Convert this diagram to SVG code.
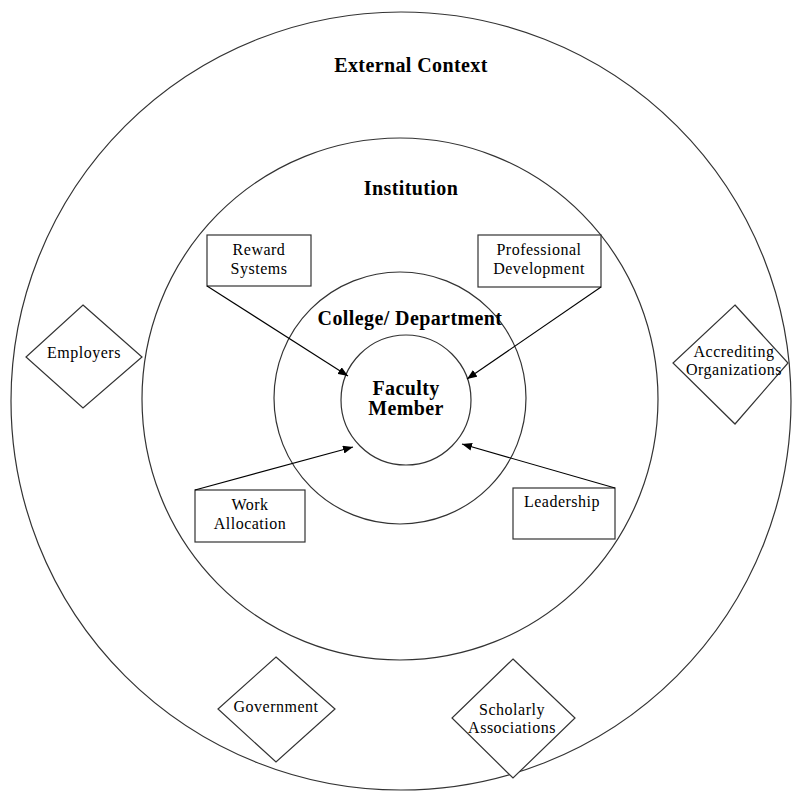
<svg xmlns="http://www.w3.org/2000/svg" width="793" height="802" viewBox="0 0 793 802">
<style>
.ring{fill:none;stroke:#333;stroke-width:1.2}
.shape{fill:#fff;stroke:#333;stroke-width:1.2}
.conn{stroke:#000;stroke-width:1.1;fill:none}
.h{font-family:"Liberation Serif",serif;font-weight:bold;font-size:20px;letter-spacing:0.4px;fill:#000;text-anchor:middle}
.t{font-family:"Liberation Serif",serif;font-size:16px;letter-spacing:0.5px;fill:#000;text-anchor:middle}
</style>
<defs>
<marker id="arr" viewBox="0 0 10 8" refX="10" refY="4" markerWidth="10" markerHeight="8" markerUnits="userSpaceOnUse" orient="auto">
<path d="M0,0 L10,4 L0,8 Z" fill="#000"/>
</marker>
</defs>
<rect width="793" height="802" fill="#fff"/>
<g id="external">
<ellipse class="ring" cx="401" cy="401" rx="390" ry="389"/>
<text class="h" x="411" y="72">External Context</text>
</g>
<g id="institution">
<ellipse class="ring" cx="400" cy="399" rx="258" ry="261"/>
<text class="h" x="411" y="195">Institution</text>
</g>
<g id="college">
<circle class="ring" cx="400" cy="398" r="126"/>
<text class="h" x="410" y="325">College/ Department</text>
</g>
<g id="faculty">
<circle class="ring" cx="406" cy="400" r="65"/>
<text class="h" x="406" y="395">Faculty</text>
<text class="h" x="406" y="415">Member</text>
</g>
<g id="reward">
<rect class="shape" x="207" y="235" width="104" height="51"/>
<text class="t" x="259" y="255">Reward</text>
<text class="t" x="259" y="274">Systems</text>
</g>
<g id="professional">
<rect class="shape" x="478" y="235" width="123" height="52"/>
<text class="t" x="539" y="255">Professional</text>
<text class="t" x="539" y="274">Development</text>
</g>
<g id="work">
<rect class="shape" x="195" y="490" width="110" height="52"/>
<text class="t" x="250" y="510">Work</text>
<text class="t" x="250" y="529">Allocation</text>
</g>
<g id="leadership">
<rect class="shape" x="513" y="488" width="102" height="51"/>
<text class="t" x="562" y="507">Leadership</text>
</g>
<g id="employers">
<polygon class="shape" points="83,305 142,357 83,408 26,357"/>
<text class="t" x="84" y="358">Employers</text>
</g>
<g id="accrediting">
<polygon class="shape" points="735,305 788,363 735,424 673,363"/>
<text class="t" x="734" y="357">Accrediting</text>
<text class="t" x="734" y="375">Organizations</text>
</g>
<g id="government">
<polygon class="shape" points="276,657 335,709 276,762 218,709"/>
<text class="t" x="276" y="712">Government</text>
</g>
<g id="scholarly">
<polygon class="shape" points="513,659 575,718 513,778 452,718"/>
<text class="t" x="512" y="715">Scholarly</text>
<text class="t" x="512" y="733">Associations</text>
</g>
<g id="connectors">
<line class="conn" x1="207" y1="286" x2="348" y2="376" marker-end="url(#arr)"/>
<line class="conn" x1="601" y1="287" x2="467" y2="379" marker-end="url(#arr)"/>
<line class="conn" x1="195" y1="490" x2="353" y2="447" marker-end="url(#arr)"/>
<line class="conn" x1="615" y1="488" x2="462" y2="444" marker-end="url(#arr)"/>
</g>
</svg>
